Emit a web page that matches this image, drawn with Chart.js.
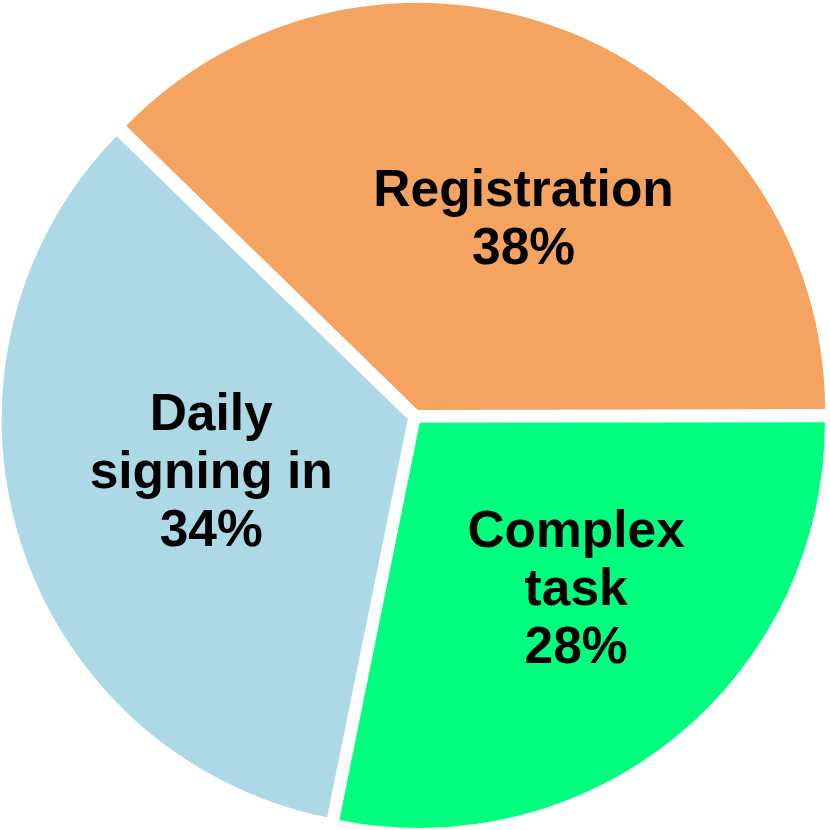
<!DOCTYPE html>
<html>
<head>
<meta charset="utf-8">
<script src="https://cdn.jsdelivr.net/npm/chart.js@4/dist/chart.umd.min.js"></script>
<style>
  html, body { margin: 0; padding: 0; background: #fff; overflow: hidden; }
  #wrap { position: relative; width: 830px; height: 830px; overflow: hidden; }
  #pie { position: absolute; left: -5px; top: -3px; }
</style>
</head>
<body>
<div id="wrap"><canvas id="pie" width="840" height="840"></canvas></div>
<script>
// values (percent of total)
const categories = ['Registration', 'Complex task', 'Daily signing in'];
const labelLines = [['Registration'], ['Complex', 'task'], ['Daily', 'signing in']];
const shares = [37.7, 28.2, 34.1];
const colors = ['#F4A460', '#00FF7F', '#ADD8E6'];

// label placement tweaks (degrees off the mid angle, fraction of radius)
const labelTurn = [7.1, -3.6, 1.6];
const labelDist = [0.536, 0.567, 0.504];

const sliceOffset = 30;

const total = shares.reduce((a, b) => a + b, 0);

const sliceLabels = {
  id: 'sliceLabels',
  afterDatasetsDraw(chart) {
    const ctx = chart.ctx;
    const meta = chart.getDatasetMeta(0);
    ctx.save();
    ctx.font = 'bold 51.5px "Liberation Sans", Arial, sans-serif';
    ctx.fillStyle = '#000';
    ctx.textAlign = 'center';
    ctx.textBaseline = 'middle';
    meta.data.forEach((arc, i) => {
      const p = arc.getProps(['x', 'y', 'startAngle', 'endAngle', 'outerRadius'], true);
      const mid = (p.startAngle + p.endAngle) / 2;
      const push = sliceOffset / 4;
      const cx = p.x + Math.cos(mid) * push;
      const cy = p.y + Math.sin(mid) * push;
      const a = mid + labelTurn[i] * Math.PI / 180;
      const r = p.outerRadius * labelDist[i];
      const x = cx + Math.cos(a) * r;
      const y = cy + Math.sin(a) * r;
      const pct = Math.round(shares[i] / total * 100) + '%';
      const lines = labelLines[i].concat([pct]);
      const lh = 58;
      const top = y - (lines.length - 1) * lh / 2;
      lines.forEach((t, k) => ctx.fillText(t, x, top + k * lh));
    });
    ctx.restore();
  }
};

new Chart(document.getElementById('pie'), {
  type: 'pie',
  data: {
    labels: categories,
    datasets: [{
      data: shares,
      backgroundColor: colors,
      borderWidth: 0,
      offset: sliceOffset,
      hoverOffset: 0
    }]
  },
  options: {
    responsive: false,
    animation: false,
    rotation: -45.8,
    layout: { padding: 0 },
    plugins: {
      legend: { display: false },
      tooltip: { enabled: false }
    }
  },
  plugins: [sliceLabels]
});
</script>
</body>
</html>
